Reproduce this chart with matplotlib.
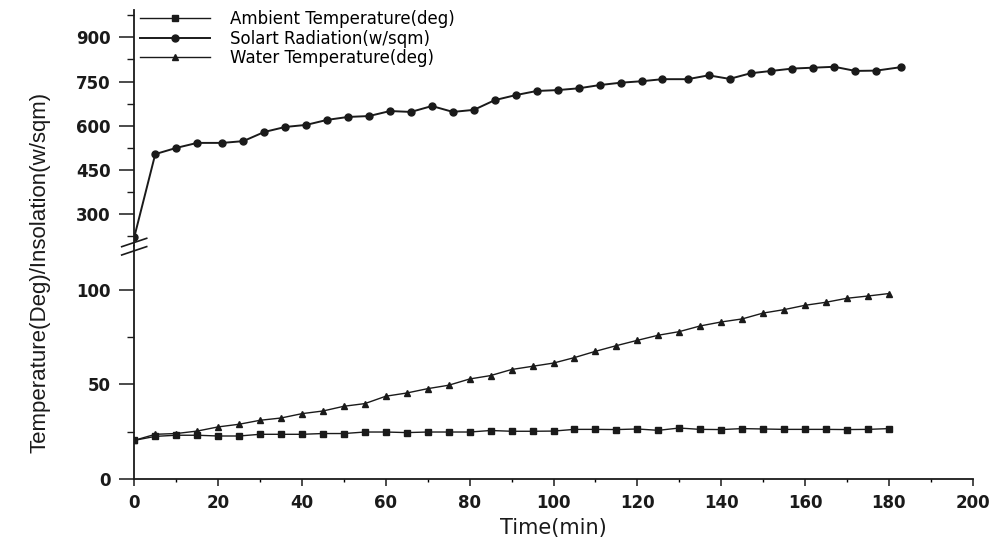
import matplotlib.pyplot as plt
from matplotlib.lines import Line2D
from matplotlib.ticker import MultipleLocator

# time axis (min)
time = [0, 5, 10, 15, 20, 25, 30, 35, 40, 45, 50, 55, 60, 65, 70, 75, 80, 85, 90,
        95, 100, 105, 110, 115, 120, 125, 130, 135, 140, 145, 150, 155, 160, 165,
        170, 175, 180]
# solar points sit slightly further right in the scan
time_solar = [0, 5, 10, 15, 21, 26, 31, 36, 41, 46, 51, 56, 61, 66, 71, 76, 81, 86,
              91, 96, 101, 106, 111, 116, 121, 126, 132, 137, 142, 147, 152, 157,
              162, 167, 172, 177, 183]

ambient = [20.4, 22.5, 23.1, 23.1, 22.7, 22.7, 23.6, 23.6, 23.6, 24.0, 24.0, 24.8,
           24.8, 24.5, 24.8, 24.8, 24.8, 25.6, 25.2, 25.2, 25.3, 26.2, 26.2, 26.1,
           26.4, 25.7, 26.9, 26.2, 26.1, 26.6, 26.4, 26.2, 26.2, 26.2, 26.1, 26.2,
           26.6]
water = [20.4, 23.6, 24.0, 25.3, 27.5, 28.9, 31.0, 32.2, 34.5, 35.9, 38.4, 39.8,
         43.7, 45.4, 47.7, 49.5, 52.8, 54.6, 57.8, 59.5, 61.2, 64.1, 67.4, 70.4,
         73.2, 75.9, 77.8, 80.8, 82.9, 84.5, 87.6, 89.4, 91.7, 93.3, 95.4, 96.6,
         97.9]
solar = [223, 504, 525, 542, 542, 548, 579, 596, 603, 620, 630, 633, 650, 647, 667,
         647, 654, 687, 704, 718, 721, 727, 738, 746, 751, 758, 758, 771, 759, 778,
         786, 794, 797, 800, 786, 787, 799]

labels = ["Ambient Temperature(deg)", "Solart Radiation(w/sqm)",
          "Water Temperature(deg)"]

INK = "#1a1a1a"
W, H = 997, 544

fig = plt.figure(figsize=(W / 100, H / 100), dpi=100)
left = 134.3 / W
width = (972.7 - 134.3) / W
junction = 246  # pixel row where the two panels meet
ax_top = fig.add_axes([left, 1 - junction / H, width, (junction - 10) / H])
ax_bot = fig.add_axes([left, 1 - 479 / H, width, (479 - junction) / H])

l_amb, = ax_bot.plot(time, ambient, color=INK, lw=1.0, marker="s", ms=4.5)
l_wat, = ax_bot.plot(time, water, color=INK, lw=1.0, marker="^", ms=5)
l_sol, = ax_top.plot(time_solar, solar, color=INK, lw=1.4, marker="o", ms=5)

for ax in (ax_top, ax_bot):
    ax.set_xlim(0, 200)
    for s in ("top", "right"):
        ax.spines[s].set_visible(False)
    ax.spines["left"].set_linewidth(1.3)
    ax.spines["left"].set_color(INK)
    ax.tick_params(axis="y", which="major", direction="out", length=11, width=1.1,
                   pad=6, colors=INK, labelsize=12)
    ax.tick_params(axis="y", which="minor", direction="out", length=5, width=1.0,
                   colors=INK)
    for t in ax.get_yticklabels():
        t.set_fontweight("bold")

ax_top.set_ylim(192.5, 992.5)
ax_top.yaxis.set_major_locator(MultipleLocator(150))
ax_top.yaxis.set_minor_locator(MultipleLocator(75))
ax_top.set_yticks([300, 450, 600, 750, 900])
ax_top.spines["bottom"].set_visible(False)
ax_top.tick_params(axis="x", which="both", bottom=False, labelbottom=False)

ax_bot.set_ylim(0, 123)
ax_bot.set_yticks([0, 50, 100])
ax_bot.yaxis.set_minor_locator(MultipleLocator(25))
ax_bot.xaxis.set_major_locator(MultipleLocator(20))
ax_bot.xaxis.set_minor_locator(MultipleLocator(10))
ax_bot.spines["bottom"].set_linewidth(1.3)
ax_bot.spines["bottom"].set_color(INK)
ax_bot.tick_params(axis="x", which="major", direction="out", length=5, width=1.1,
                   pad=6, colors=INK, labelsize=12)
ax_bot.tick_params(axis="x", which="minor", direction="out", length=2.5, width=1.0)

for ax in (ax_top, ax_bot):
    for t in ax.get_yticklabels() + ax.get_xticklabels():
        t.set_fontweight("bold")

# axis break slashes (pixel coords from the top)
for y0 in (246.7, 255):
    fig.add_artist(Line2D([121.7 / 100, 146.7 / 100],
                          [(H - y0) / 100, (H - y0 + 8.4) / 100],
                          transform=fig.dpi_scale_trans, color=INK, lw=1.2))

fig.text(553 / W, 1 - 528 / H, "Time(min)", ha="center", va="center",
         fontsize=15, color=INK)
fig.text(40 / W, 1 - 272 / H, "Temperature(Deg)/Insolation(w/sqm)", rotation=90,
         ha="center", va="center", fontsize=16, family="Liberation Sans", color=INK)

fig.legend([l_amb, l_sol, l_wat], labels, loc="upper left",
           bbox_to_anchor=(140 / W, 1 - 10 / H), frameon=False, fontsize=12,
           handlelength=4.2, handletextpad=1.2, labelspacing=0.1, borderpad=0,
           borderaxespad=0)

fig.savefig("out.png", dpi=100, facecolor="white")
